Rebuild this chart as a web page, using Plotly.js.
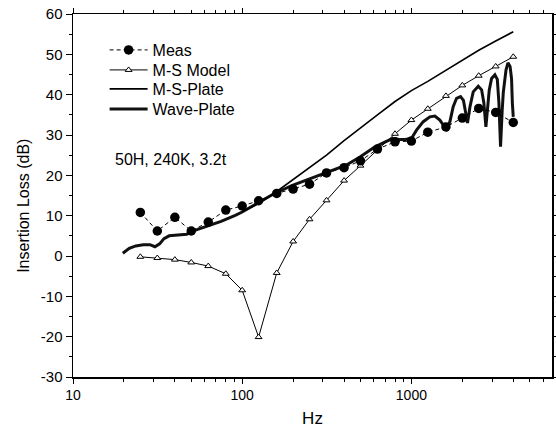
<!DOCTYPE html>
<html>
<head>
<meta charset="utf-8">
<script src="https://cdn.plot.ly/plotly-3.0.1.min.js"></script>
<style>html,body{margin:0;padding:0;background:#fff;}#chart{width:556px;height:428px;}</style>
</head>
<body>
<div id="chart"></div>
<script>
// Third-octave band centre frequencies (Hz)
var bandFreq = [25, 31.5, 40, 50, 63, 80, 100, 125, 160, 200, 250, 315, 400, 500, 630, 800, 1000, 1250, 1600, 2000, 2500, 3150, 4000];
var measIL = [10.8, 6.2, 9.6, 6.2, 8.4, 11.4, 12.4, 13.7, 15.5, 16.6, 17.8, 20.6, 21.9, 23.6, 26.5, 28.3, 28.5, 30.7, 32.0, 34.2, 36.6, 35.6, 33.1];
var msModelIL = [-0.2, -0.5, -0.9, -1.6, -2.5, -4.4, -8.5, -20.1, -4.2, 3.6, 9.1, 13.8, 18.7, 22.4, 26.2, 30.3, 33.7, 36.5, 39.7, 42.3, 44.7, 47.0, 49.4];

var msPlateFreq = [100, 125, 160, 200, 250, 315, 400, 500, 630, 800, 1000, 1250, 1600, 2000, 2500, 3150, 4000];
var msPlateIL = [11.0, 13.0, 16.0, 19.0, 22.0, 25.0, 28.6, 31.8, 35.0, 38.3, 41.0, 43.3, 46.0, 48.6, 51.0, 53.3, 55.6];

var wavePlateFreq = [19.7, 21.5, 23.5, 26, 28.5, 30.5, 32.5, 34.5, 37, 42, 47, 53, 62, 75, 91, 100, 122, 155, 198, 253, 322, 411, 499, 606, 701, 773, 851, 920, 1003, 1072, 1175, 1286, 1377, 1473, 1578, 1615, 1689, 1766, 1849, 1952, 2030, 2080, 2146, 2219, 2319, 2484, 2600, 2680, 2756, 2884, 2978, 3115, 3220, 3290, 3364, 3440, 3492, 3623, 3720, 3830, 3908, 3950, 4000];
var wavePlateIL = [0.7, 1.9, 2.5, 2.8, 2.8, 2.3, 3.0, 4.3, 5.0, 5.2, 5.4, 6.4, 7.4, 8.6, 10.1, 10.9, 13.0, 15.5, 17.5, 19.2, 20.8, 22.5, 24.6, 27.0, 28.3, 29.1, 28.9, 28.9, 29.2, 31.2, 33.3, 34.5, 34.7, 33.7, 31.9, 31.4, 33.3, 37.0, 39.1, 39.5, 38.6, 36.5, 33.0, 37.0, 40.7, 42.1, 41.2, 38.0, 32.0, 41.1, 44.0, 44.9, 43.8, 38.0, 27.1, 36.0, 40.5, 46.1, 47.9, 47.0, 44.0, 38.0, 34.5];

var xMajor = [10, 100, 1000];
var xMajorText = ['10', '100', '1000'];
var xMinor = [20, 30, 40, 50, 60, 70, 80, 90, 200, 300, 400, 500, 600, 700, 800, 900, 2000, 3000, 4000, 5000, 6000];
var yMajor = [-30, -20, -10, 0, 10, 20, 30, 40, 50, 60];
var yMajorText = ['-30', '-20', '-10', '0', '10', '20', '30', '40', '50', '60'];

var FONT = "Liberation Sans, Arial, sans-serif";

var traces = [
  {x: wavePlateFreq, y: wavePlateIL, name: 'Wave-Plate', mode: 'lines', legend: 'legend4',
   line: {color: '#111', width: 3}},
  {x: msPlateFreq, y: msPlateIL, name: 'M-S-Plate', mode: 'lines', legend: 'legend3',
   line: {color: '#000', width: 1.6}},
  {x: bandFreq, y: msModelIL, name: 'M-S Model', mode: 'lines+markers', legend: 'legend2',
   line: {color: '#000', width: 1},
   marker: {symbol: 'triangle-up', size: 6, color: '#fff', line: {color: '#000', width: 1}}},
  {x: bandFreq, y: measIL, name: 'Meas', mode: 'lines+markers', legend: 'legend',
   line: {color: '#000', width: 1, dash: '4px,3px'},
   marker: {symbol: 'circle', size: 9.5, color: '#000'}}
];

function leg(y) {
  return {x: 0.066, y: y, xanchor: 'left', yanchor: 'middle', bgcolor: 'rgba(0,0,0,0)',
          font: {family: FONT, size: 16, color: '#000'}, itemwidth: 38};
}

var layout = {
  width: 556, height: 428,
  margin: {l: 73, r: 4, t: 14, b: 51},
  paper_bgcolor: '#fff', plot_bgcolor: '#fff',
  font: {family: FONT, color: '#000', size: 14},
  showlegend: true,
  legend: leg(0.9008),
  legend2: leg(0.8457),
  legend3: leg(0.7934),
  legend4: leg(0.7383),
  xaxis: {type: 'log', range: [1, 3.831], showgrid: false, zeroline: false,
          showline: true, linecolor: '#000', linewidth: 1.5, mirror: 'allticks',
          ticks: 'outside', ticklen: 5, tickwidth: 1, tickcolor: '#000',
          tickmode: 'array', tickvals: xMajor, ticktext: xMajorText,
          tickfont: {family: FONT, size: 14},
          minor: {tickmode: 'array', tickvals: xMinor, ticks: 'outside', ticklen: 3, tickcolor: '#000', showgrid: false},
          title: {text: 'Hz', font: {family: FONT, size: 17}, standoff: 14}},
  yaxis: {range: [-30, 60], showgrid: false, zeroline: false,
          showline: true, linecolor: '#000', linewidth: 1.5, mirror: 'allticks',
          ticks: 'outside', ticklen: 6, tickwidth: 1, tickcolor: '#000',
          tickmode: 'array', tickvals: yMajor, ticktext: yMajorText,
          tickfont: {family: FONT, size: 15},
          minor: {dtick: 5, ticks: 'outside', ticklen: 3, tickcolor: '#000', showgrid: false}},
  annotations: [
    {text: '50H, 240K, 3.2t', xref: 'paper', yref: 'paper', x: 0.083, y: 0.600,
     xanchor: 'left', yanchor: 'middle', showarrow: false, font: {family: FONT, size: 16}},
    {text: 'Insertion Loss (dB)', xref: 'paper', yref: 'paper', x: -0.104, y: 0.472,
     xanchor: 'center', yanchor: 'middle', textangle: -90, showarrow: false, font: {family: FONT, size: 16}}
  ]
};

Plotly.newPlot('chart', traces, layout, {staticPlot: true, displayModeBar: false});
</script>
</body>
</html>
